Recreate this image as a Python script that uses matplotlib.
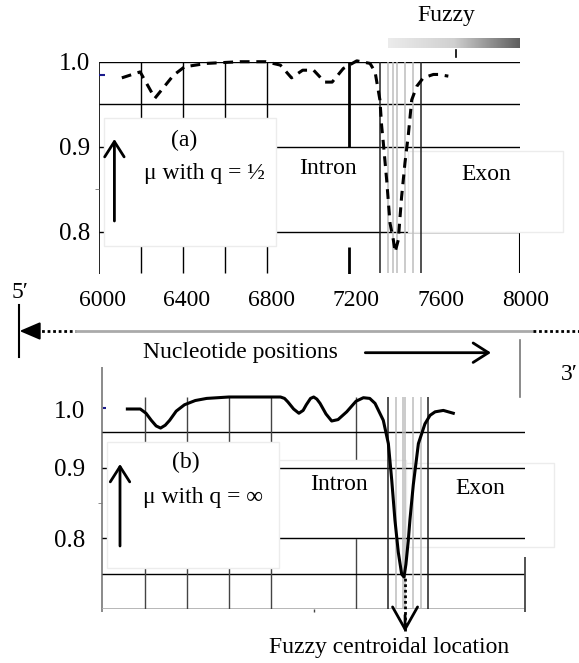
import numpy as np
import matplotlib
matplotlib.use('Agg')
import matplotlib.pyplot as plt
from matplotlib.colors import LinearSegmentedColormap
from matplotlib.patches import Rectangle
from matplotlib.transforms import blended_transform_factory

plt.rcParams['font.family'] = ['Liberation Serif', 'DejaVu Serif']

# --- membership curves ---
pos_a = [6109, 6196, 6266, 6354, 6407, 6512, 6670, 6792, 6862, 6915, 6968, 7020,
         7073, 7108, 7161, 7225, 7288, 7312, 7335, 7343, 7351, 7367, 7383, 7399,
         7407, 7422, 7438, 7454, 7470, 7486, 7510, 7541, 7589, 7612, 7660]
mu_a = [0.981, 0.988, 0.957, 0.984, 0.994, 0.998, 1.0, 1.0, 0.996, 0.981, 0.990, 0.990,
        0.976, 0.976, 0.992, 1.001, 0.998, 0.988, 0.955, 0.925, 0.905, 0.861, 0.810, 0.790,
        0.776, 0.790, 0.841, 0.881, 0.914, 0.955, 0.971, 0.981, 0.985, 0.985, 0.983]

pos_b = [6119, 6180, 6207, 6232, 6255, 6276, 6298, 6319, 6350, 6389, 6440, 6494, 6599,
         6700, 6799, 6843, 6862, 6878, 6905, 6930, 6950, 6965, 6985, 7000, 7015, 7030,
         7058, 7085, 7115, 7156, 7200, 7235, 7265, 7290, 7329, 7353, 7369, 7384,
         7400, 7416, 7427, 7436, 7447, 7455, 7471, 7495, 7526, 7550, 7574, 7613, 7660]
mu_b = [0.983, 0.983, 0.977, 0.967, 0.959, 0.956, 0.960, 0.967, 0.980, 0.989, 0.995, 0.998, 1.0,
        1.0, 1.0, 1.0, 0.998, 0.993, 0.983, 0.977, 0.981, 0.989, 0.998, 1.0, 0.997, 0.991,
        0.976, 0.966, 0.968, 0.979, 0.994, 0.999, 0.998, 0.991, 0.967, 0.934, 0.882, 0.826,
        0.780, 0.749, 0.745, 0.763, 0.796, 0.826, 0.876, 0.934, 0.962, 0.974, 0.979, 0.981, 0.977]

xtick_vals = [6000, 6400, 6800, 7200, 7600, 8000]
xtick_labels = ['6000', '6400', '6800', '7200', '7600', '8000']
ytick_labels = ['1.0', '0.9', '0.8']
ytick_pos_a = [1.0, 0.9, 0.8]
ytick_pos_b = [0.982, 0.9, 0.8]

grid_x = [6200, 6400, 6600, 6800]
grid_y_a = [1.0, 0.95, 0.9, 0.8]
grid_y_b = [0.95, 0.9, 0.8, 0.75]
intron_line_a = 7190
intron_line_b = 7200
bounds_a = [7335, 7530]
bounds_b = [7350, 7542]
fuzzy_a = [7373, 7397, 7415, 7454, 7491]
fuzzy_b = [7391, 7424, 7432, 7468, 7505]
centroid_b = 7432

W, H = 579, 663
fig = plt.figure(figsize=(W / 100, H / 100), dpi=100)

# pixel overlay for annotations
ov = fig.add_axes([0, 0, 1, 1], zorder=5)
ov.set_xlim(0, W)
ov.set_ylim(H, 0)
ov.axis('off')
ov.patch.set_visible(False)


def px_axes(x0, y0, x1, y1):
    ax = fig.add_axes([x0 / W, 1 - y1 / H, (x1 - x0) / W, (y1 - y0) / H])
    for s in ax.spines.values():
        s.set_visible(False)
    ax.patch.set_visible(False)
    ax.set_xticks([])
    return ax


def box(ax, x, y, w, h, z, ec='#ececec'):
    ax.add_patch(Rectangle((x, y), w, h, transform=ov.transData, fc='white',
                           ec=ec, lw=1, zorder=z, clip_on=False))


# ---------- panel (a) ----------
ax_a = px_axes(98.9, 61.7, 519.9, 274.2)
ax_a.vlines(6000, 0.75, 1.0, colors='k', lw=1.2, zorder=1)
ax_a.hlines(grid_y_a, 6000, 8000, colors='k', lw=1, zorder=1)
ax_a.vlines(grid_x, 0.751, 1.0, colors='k', lw=1, zorder=1)
ax_a.vlines([intron_line_a, intron_line_a], [0.9, 0.745], [1.0, 0.782], colors='k', lw=2, zorder=1)
ax_a.vlines(8000, 0.751, 0.8, colors='k', lw=1.5, zorder=1)
box(ax_a, 104.4, 118, 171.6, 128, 2)
box(ax_a, 407.7, 150.7, 155, 81.5, 2)
ax_a.vlines(bounds_a, 0.751, 1.0, colors='#222222', lw=1.1, zorder=3)
ax_a.vlines(fuzzy_a, 0.751, 1.0, colors='#bdbdbd', lw=1.1, zorder=3)
ax_a.hlines(0.984, 6000, 6030, colors='#1a1a8c', lw=1.5, zorder=3)
ax_a.plot(pos_a, mu_a, color='k', lw=2.2, ls=(0, (3.2, 2.2)), zorder=4, clip_on=False)
ax_a.set_xlim(6000, 8000)
ax_a.set_ylim(0.75, 1.0)
ax_a.set_yticks(ytick_pos_a, ytick_labels, fontsize=18)
ax_a.set_yticks([0.85], minor=True)
ax_a.tick_params(axis='y', which='major', length=0, pad=6)
ax_a.tick_params(axis='y', which='minor', length=3, color='#777777')

# ---------- panel (b) ----------
ax_b = px_axes(102.2, 397, 525.2, 608.8)
ax_b.vlines(6000, 0.696, 1.043, colors='#777777', lw=1.2, zorder=1, clip_on=False)
ax_b.hlines(0.70, 6000, 8000, colors='#aaaaaa', lw=1.2, zorder=1)
ax_b.vlines(intron_line_b, 0.70, 1.0, colors='#444444', lw=1, zorder=1)
box(ax_b, 266.4, 460, 139.6, 78.3, 1.2)
box(ax_b, 406, 463.3, 147.5, 83.4, 1.2)
ax_b.hlines(grid_y_b, 6000, 8000, colors='k', lw=1, zorder=1.5)
ax_b.vlines(grid_x, 0.70, 1.0, colors='#444444', lw=1, zorder=1.5)
ax_b.vlines(7000, 0.695, 0.70, colors='#444444', lw=1, zorder=1.5, clip_on=False)
ax_b.vlines(8000, 0.696, 0.774, colors='#444444', lw=1.3, zorder=1.5, clip_on=False)
box(ax_b, 107, 441.7, 172.3, 126.6, 2)
ax_b.vlines(bounds_b, 0.70, 1.0, colors='#222222', lw=1.1, zorder=3)
ax_b.vlines(fuzzy_b, 0.70, 1.0, colors='#bdbdbd', lw=1.1, zorder=3)
ax_b.hlines(0.984, 6005, 6020, colors='#1a1a8c', lw=1.5, zorder=3)
ax_b.plot(pos_b, mu_b, color='k', lw=2.2, zorder=4, clip_on=False)
ax_b.set_xlim(6000, 8000)
ax_b.set_ylim(0.70, 1.0)
ax_b.set_yticks(ytick_pos_b, ytick_labels, fontsize=18)
ax_b.set_yticks([0.85], minor=True)
ax_b.tick_params(axis='y', which='major', length=0, pad=12)
ax_b.tick_params(axis='y', which='minor', length=3, color='#777777')

# x tick labels sit between the two panels
tb = blended_transform_factory(ax_b.transData, ov.transData)
fs = 17
for v, lab in zip(xtick_vals, xtick_labels):
    ov.text(v, 300, lab, transform=tb, ha='center', va='center', fontsize=fs)

# ---------- annotations ----------
grad = LinearSegmentedColormap.from_list('fz', ['#ececec', '#d0d0d0', '#5e5e5e'])
ov.imshow(np.linspace(0, 1, 256)[None, :], extent=[387.7, 519, 47.7, 37.7],
          cmap=grad, aspect='auto', zorder=1)
ov.text(446.7, 16, 'Fuzzy', ha='center', va='center', fontsize=fs)
ov.plot([456, 456], [50, 56.7], color='k', lw=1.2)

ov.text(184.5, 140, '(a)', ha='center', va='center', fontsize=fs)
ov.text(204, 173, 'μ with q = ½', ha='center', va='center', fontsize=fs)
ov.annotate('', xy=(114.4, 139), xytext=(114.4, 221),
            arrowprops=dict(arrowstyle='->,head_length=0.55,head_width=0.35',
                            lw=2, color='k', mutation_scale=20, shrinkA=0, shrinkB=0))
ov.text(328, 169, 'Intron', ha='center', va='center', fontsize=fs)
ov.text(486.5, 175, 'Exon', ha='center', va='center', fontsize=fs)

# sequence direction strip
ov.text(20, 293, '5′', ha='center', va='center', fontsize=fs)
ov.plot([19.2, 19.2], [305, 356.7], color='k', lw=1.5)
ov.annotate('', xy=(19.5, 331), xytext=(36, 331),
            arrowprops=dict(arrowstyle='-|>,head_length=0.7,head_width=0.3',
                            lw=1.5, color='k', mutation_scale=18, shrinkA=0, shrinkB=0))
ov.plot([36, 75.6], [331, 331], color='k', lw=2, ls=(0, (1, 1)))
ov.plot([75.6, 533], [331, 331], color='#aaaaaa', lw=2)
ov.plot([533, 579], [331, 331], color='k', lw=2, ls=(0, (1, 1)))
ov.text(240.4, 352.7, 'Nucleotide positions', ha='center', va='center', fontsize=fs)
ov.annotate('', xy=(491, 352.7), xytext=(365.3, 352.7),
            arrowprops=dict(arrowstyle='->,head_length=0.55,head_width=0.35',
                            lw=2, color='k', mutation_scale=20, shrinkA=0, shrinkB=0))
ov.plot([519.6, 519.6], [340, 396.7], color='#777777', lw=1.2)
ov.text(578, 375, '3′', ha='right', va='center', fontsize=fs)

ov.text(186.3, 462.7, '(b)', ha='center', va='center', fontsize=fs)
ov.text(203, 498, 'μ with q = ∞', ha='center', va='center', fontsize=fs)
ov.annotate('', xy=(120, 464), xytext=(120, 546),
            arrowprops=dict(arrowstyle='->,head_length=0.55,head_width=0.35',
                            lw=2, color='k', mutation_scale=20, shrinkA=0, shrinkB=0))
ov.text(339, 484, 'Intron', ha='center', va='center', fontsize=fs)
ov.text(480, 488.3, 'Exon', ha='center', va='center', fontsize=fs)

# centroid marker under panel (b)
ax_b.vlines(centroid_b, 0.668, 0.745, colors='k', lw=2, linestyles=(0, (1, 1)),
            zorder=4, clip_on=False)
ov.annotate('', xy=(centroid_b, 632), xytext=(centroid_b, 615), xycoords=tb, textcoords=tb,
            arrowprops=dict(arrowstyle='->,head_length=0.8,head_width=0.45',
                            lw=2, color='k', mutation_scale=20, shrinkA=0, shrinkB=0))
ov.text(389, 648, 'Fuzzy centroidal location', ha='center', va='center', fontsize=fs)

ov.set_xlim(0, W)
ov.set_ylim(H, 0)

fig.savefig('out.png', dpi=100)
